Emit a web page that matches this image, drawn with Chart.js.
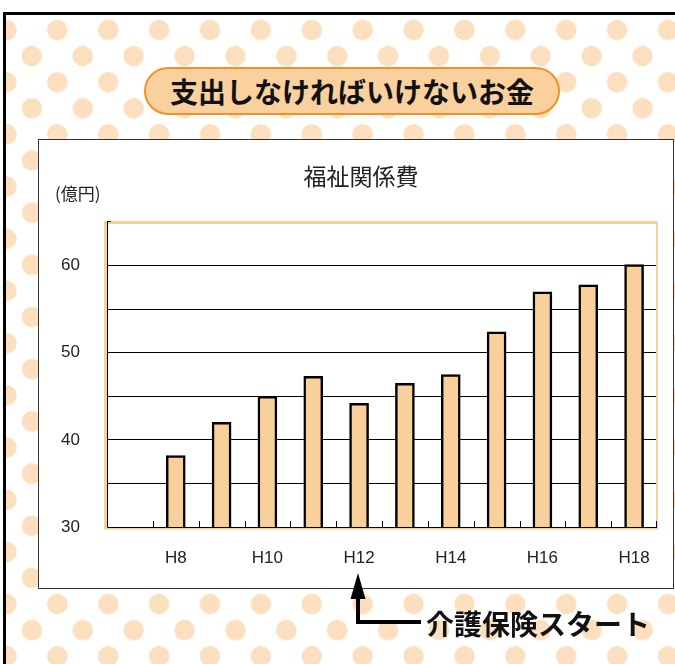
<!DOCTYPE html>
<html lang="ja">
<head>
<meta charset="utf-8">
<script src="https://cdn.jsdelivr.net/npm/chart.js@4.4.1/dist/chart.umd.min.js"></script>
<style>
  html, body { margin: 0; padding: 0; background: #fff; }
  #page { position: relative; width: 675px; height: 664px; overflow: hidden; font-family: "Noto Sans CJK JP", sans-serif; }
  #frame {
    position: absolute; left: 3px; top: 12px; width: 720px; height: 720px;
    border-left: 3px solid #000; border-top: 3px solid #000;
    background-color: #fff;
    background-image:
      radial-gradient(circle, #fcdfbf 9.8px, rgba(252,223,191,0) 10.5px),
      radial-gradient(circle, #fcdfbf 9.8px, rgba(252,223,191,0) 10.5px);
    background-size: 50.9px 52.2px;
    background-position: -25px -11.1px, 0.45px 15px;
  }
  #pill {
    position: absolute; left: 144px; top: 67px; width: 412px; height: 44px;
    border: 2px solid #f0922a; border-radius: 24px; background: #f9d09e;
    text-align: center; line-height: 44px; font-size: 28px; font-weight: bold; color: #111;
  }
  #box {
    position: absolute; left: 38px; top: 139px; width: 634px; height: 448px;
    border: 1px solid #333; background: #fff;
  }
  #box canvas { position: absolute; left: 0; top: 0; }
  #chartTitle { position: absolute; left: 0; width: 644px; top: 18px; text-align: center; font-size: 23px; color: #222; }
  #unit { position: absolute; left: 16px; top: 40px; font-size: 17px; color: #222; }
  #note { position: absolute; left: 426px; top: 604px; font-size: 28px; font-weight: bold; color: #111; line-height: 38px; }
  #arrow { position: absolute; left: 0; top: 0; }
</style>
</head>
<body>
<div id="page">
  <div id="frame"></div>
  <div id="pill">支出しなければいけないお金</div>
  <div id="box">
    <canvas id="bars" width="634" height="448"></canvas>
    <div id="chartTitle">福祉関係費</div>
    <div id="unit">(億円)</div>
  </div>
  <svg id="arrow" width="675" height="664">
    <polyline points="358,596 358,622 421,622" fill="none" stroke="#000" stroke-width="4"/>
    <polygon points="358,573 350.5,599 365.5,599" fill="#000"/>
  </svg>
  <div id="note">介護保険スタート</div>
</div>
<script>
// 福祉関係費 (億円), H7 has no bar
const years = ["H7", "H8", "H9", "H10", "H11", "H12", "H13", "H14", "H15", "H16", "H17", "H18"];
const welfareCost = [null, 38.2, 42.0, 45.0, 47.3, 44.2, 46.5, 47.5, 52.4, 57.0, 57.8, 60.1];
const yTickLabels = [30, 40, 50, 60];
const shownYears = ["H8", "H10", "H12", "H14", "H16", "H18"];

const peach = "#f9cf9c";

// plot frame: peach border, black axes, small ticks pointing up between bars
const plotFrame = {
  id: "plotFrame",
  afterDatasetsDraw(chart) {
    const { ctx, chartArea: a, scales } = chart;
    const x = scales.x;
    ctx.save();
    ctx.strokeStyle = peach;
    ctx.lineWidth = 3;
    ctx.beginPath();
    ctx.moveTo(a.left - 1.5, a.bottom + 1.5);
    ctx.lineTo(a.left - 1.5, a.top + 0.5);
    ctx.lineTo(a.right, a.top + 0.5);
    ctx.stroke();
    ctx.lineWidth = 2;
    ctx.beginPath();
    ctx.moveTo(a.right, a.top);
    ctx.lineTo(a.right, a.bottom + 2);
    ctx.moveTo(a.left - 3, a.bottom + 1.5);
    ctx.lineTo(a.right + 1, a.bottom + 1.5);
    ctx.stroke();

    ctx.strokeStyle = "#000";
    ctx.lineWidth = 1;
    ctx.beginPath();
    ctx.moveTo(a.left + 0.5, a.top - 1);
    ctx.lineTo(a.left + 0.5, a.bottom + 0.5);
    ctx.lineTo(a.right, a.bottom + 0.5);
    ctx.moveTo(a.left + 0.5, a.top - 0.5);
    ctx.lineTo(a.left + 4, a.top - 0.5);
    for (let i = 1; i <= years.length; i++) {
      const px = i < years.length
        ? Math.round((x.getPixelForValue(i - 1) + x.getPixelForValue(i)) / 2) + 0.5
        : a.right - 0.5;
      ctx.moveTo(px, a.bottom);
      ctx.lineTo(px, a.bottom - 6);
    }
    ctx.stroke();
    ctx.restore();
  }
};

const barConfig = {
  type: "bar",
  data: {
    labels: years,
    datasets: [
      {
        label: "福祉関係費",
        data: welfareCost,
        backgroundColor: peach,
        borderColor: "#000",
        borderWidth: 2.5,
        barThickness: 19,
        borderSkipped: "bottom",
      },
    ],
  },
  options: {
    responsive: false,
    animation: false,
    layout: { padding: { left: 0, right: 16, top: 82, bottom: 0 } },
    plugins: {
      legend: { display: false },
      tooltip: { enabled: false },
    },
    scales: {
      x: {
        offset: true,
        grid: { display: false, drawTicks: false },
        border: { display: false },
        ticks: {
          autoSkip: false,
          maxRotation: 0,
          padding: 21,
          color: "#222",
          font: { family: "'Liberation Sans', Arial, sans-serif", size: 17 },
          callback: (v, i) => (shownYears.includes(years[i]) ? years[i] : ""),
        },
        afterFit: (s) => { s.height = 61; },
      },
      y: {
        min: 30,
        max: 65,
        grid: {
          drawTicks: false,
          color: (c) => (c.tick && (c.tick.value === 30 || c.tick.value === 65) ? "rgba(0,0,0,0)" : "#000"),
          lineWidth: 1,
        },
        border: { display: false },
        ticks: {
          stepSize: 5,
          padding: 27,
          color: "#222",
          font: { family: "'Liberation Sans', Arial, sans-serif", size: 17 },
          callback: (v) => (yTickLabels.includes(v) ? String(v) : ""),
        },
        afterFit: (s) => { s.width = 68; },
      },
    },
  },
  plugins: [plotFrame],
};

const barsCtx = document.getElementById("bars");
window.myBar = new Chart(barsCtx, barConfig);
</script>
</body>
</html>
